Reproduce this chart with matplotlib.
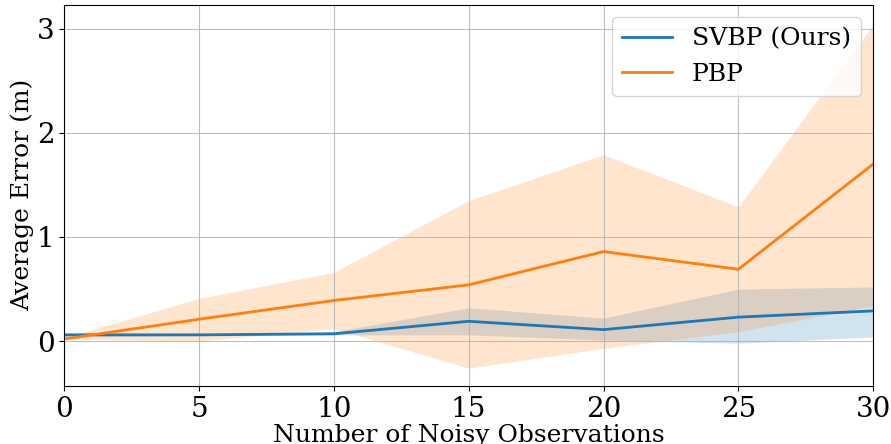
import numpy as np
import matplotlib
matplotlib.use("Agg")
import matplotlib.pyplot as plt

plt.rcParams['font.family'] = 'DejaVu Serif'
plt.rcParams['font.size'] = 20

# number of noisy observations
n_obs = [0, 5, 10, 15, 20, 25, 30]

# SVBP (ours): mean error and band
svbp_mean = [0.06, 0.06, 0.07, 0.19, 0.11, 0.23, 0.29]
svbp_low = [0.04, 0.05, 0.06, 0.06, 0.01, -0.02, 0.04]
svbp_high = [0.07, 0.07, 0.09, 0.32, 0.22, 0.50, 0.52]

# PBP: mean error and band
pbp_mean = [0.02, 0.21, 0.39, 0.54, 0.86, 0.69, 1.70]
pbp_low = [0.02, 0.00, 0.12, -0.26, -0.07, 0.09, 0.34]
pbp_high = [0.03, 0.41, 0.66, 1.35, 1.79, 1.29, 3.04]

fig, ax = plt.subplots(figsize=(8.91, 4.44), dpi=100)
fig.subplots_adjust(left=0.072, right=0.98, top=0.989, bottom=0.131)

ax.plot(n_obs, svbp_mean, color='tab:blue', lw=2, label='SVBP (Ours)')
ax.fill_between(n_obs, svbp_low, svbp_high, color='tab:blue', alpha=0.2, lw=0)
ax.plot(n_obs, pbp_mean, color='tab:orange', lw=2, label='PBP')
ax.fill_between(n_obs, pbp_low, pbp_high, color='tab:orange', alpha=0.2, lw=0)

ax.set_xlim(0, 30)
ax.set_ylim(-0.43, 3.23)
ax.set_xticks(np.arange(0, 31, 5))
ax.set_yticks([0, 1, 2, 3])
ax.grid(True, color='#b0b0b0', alpha=0.8)
ax.set_xlabel('Number of Noisy Observations', fontsize=18, labelpad=1)
ax.set_ylabel('Average Error (m)', fontsize=18, labelpad=2)
ax.legend(loc='upper right', fontsize=18)

fig.savefig('out.png', dpi=100)
